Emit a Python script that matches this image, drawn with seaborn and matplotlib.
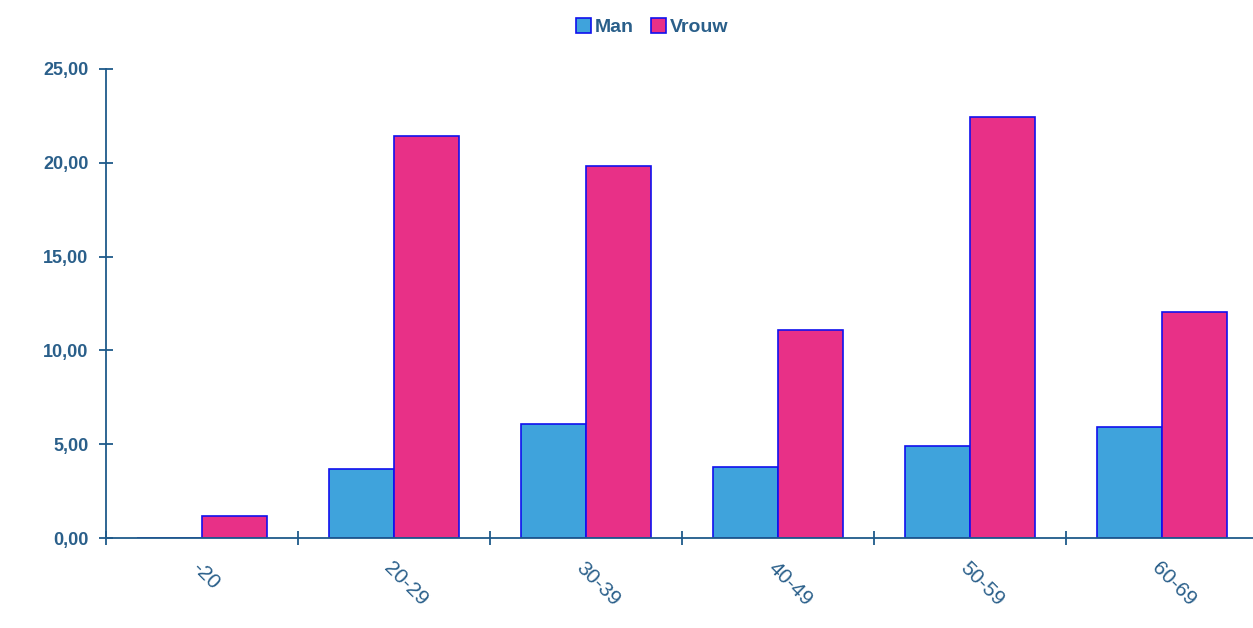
import numpy as np
import pandas as pd
import matplotlib
matplotlib.use("Agg")
import matplotlib.pyplot as plt
import seaborn as sns

# data
groups = ["-20", "20-29", "30-39", "40-49", "50-59", "60-69"]
man = [0.0, 3.68, 6.08, 3.78, 4.90, 5.92]
vrouw = [1.17, 21.43, 19.83, 11.09, 22.44, 12.05]
series = ["Man", "Vrouw"]
colors = ["#3fa3dc", "#e83087"]

df = pd.DataFrame({"groep": groups * 2,
                   "geslacht": ["Man"] * len(groups) + ["Vrouw"] * len(groups),
                   "waarde": man + vrouw})

sns.set_style("white")
plt.rcParams["font.family"] = ["Liberation Sans", "DejaVu Sans"]
textcol = "#2a5f8a"
axcol = "#1f5a8a"

fig = plt.figure(figsize=(12.53, 6.28), dpi=100)
ax = fig.add_axes([106 / 1253, 1 - 538 / 628, 1152 / 1253, (538 - 69) / 628])

sns.barplot(data=df, x="groep", y="waarde", hue="geslacht", hue_order=series,
            palette=colors, width=0.68, gap=0, edgecolor="#1010ee", linewidth=1.2,
            saturation=1, ax=ax, legend=True)

ax.set_xlim(-0.5, len(groups) - 0.5)
ax.set_ylim(0, 25)
ax.set_xlabel("")
ax.set_ylabel("")

for s in ["top", "right"]:
    ax.spines[s].set_visible(False)
for s in ["left", "bottom"]:
    ax.spines[s].set_color(axcol)
    ax.spines[s].set_linewidth(1.3)

yt = [0, 5, 10, 15, 20, 25]
ax.set_yticks(yt)
ax.set_yticklabels([f"{v:.2f}".replace(".", ",") for v in yt],
                   color=textcol, fontsize=13, fontweight="bold")
ax.tick_params(axis="y", direction="inout", length=9.5, width=1.3, color=axcol, pad=8, left=True)

ax.set_xticks(range(len(groups)))
ax.set_xticklabels(groups, rotation=-45, ha="left", va="top", rotation_mode="anchor",
                   color=textcol, fontsize=15)
ax.tick_params(axis="x", which="major", length=0, pad=15, bottom=False)
ax.set_xticks(np.arange(-0.5, len(groups), 1.0), minor=True)
ax.tick_params(axis="x", which="minor", direction="inout", length=10, width=1.3,
               color=axcol, bottom=True)

leg = ax.legend(loc="upper center", bbox_to_anchor=(652 / 1253, 1 - 1 / 628),
                bbox_transform=fig.transFigure, ncol=2, frameon=False,
                handlelength=0.75, handleheight=0.75, handletextpad=0.2,
                columnspacing=0.9, fontsize=14)
for t in leg.get_texts():
    t.set_color(textcol)
    t.set_fontweight("bold")

fig.savefig("out.png", dpi=100)
